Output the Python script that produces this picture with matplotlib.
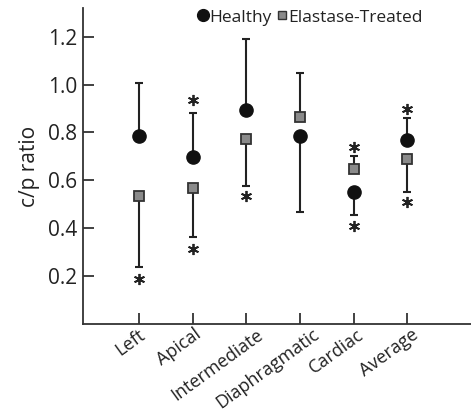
import matplotlib
matplotlib.use("Agg")
import matplotlib.pyplot as plt
from matplotlib.lines import Line2D
from matplotlib.transforms import ScaledTranslation
import numpy as np

plt.rcParams['font.family'] = ['Open Sans', 'DejaVu Sans']

regions = ["Left", "Apical", "Intermediate", "Diaphragmatic", "Cardiac", "Average"]

healthy = [0.785, 0.697, 0.892, 0.785, 0.551, 0.767]
healthy_bar_end = [1.005, 0.880, 1.190, 0.466, 0.457, 0.860]

elastase = [0.535, 0.568, 0.773, 0.864, 0.647, 0.688]
elastase_bar_end = [0.240, 0.362, 0.576, 1.047, 0.700, 0.552]

# significance marks (region index, y)
star_idx = [0, 1, 1, 2, 4, 4, 5, 5]
star_y = [0.19, 0.935, 0.313, 0.536, 0.74, 0.41, 0.90, 0.51]

dark = "#222222"

fig = plt.figure(figsize=(4.71, 4.17), dpi=100)
ax = fig.add_axes([83 / 471, 93 / 417, 388 / 471, 316 / 417])

x = np.arange(len(regions))


def one_sided(vals, ends):
    vals = np.asarray(vals)
    ends = np.asarray(ends)
    lo = np.where(ends < vals, vals - ends, 0)
    hi = np.where(ends > vals, ends - vals, 0)
    return [lo, hi]


ax.errorbar(x, healthy, yerr=one_sided(healthy, healthy_bar_end), fmt='none',
            ecolor=dark, elinewidth=1.5, capsize=3, capthick=1.5, zorder=2)
ax.errorbar(x, elastase, yerr=one_sided(elastase, elastase_bar_end), fmt='none',
            ecolor=dark, elinewidth=1.5, capsize=3, capthick=1.5, zorder=2)

ax.plot(x, healthy, 'o', color='#111111', markersize=9.5, zorder=3)
ax.plot(x, elastase, 's', markerfacecolor='#8a8a8a', markeredgecolor='#333333',
        markeredgewidth=1.3, markersize=7, zorder=3)

ax.plot(np.array(star_idx), star_y, linestyle='none', marker=(6, 2, 0),
        markersize=8, markeredgewidth=1.3, color=dark, zorder=3)

ax.set_xlim(-1.045, 6.19)
ax.set_ylim(0, 1.32)
ax.set_yticks([0.2, 0.4, 0.6, 0.8, 1.0, 1.2])
ax.set_yticklabels(["0.2", "0.4", "0.6", "0.8", "1.0", "1.2"])
ax.set_xticks(x)
ax.set_xticklabels(regions, rotation=36, ha='right', rotation_mode='anchor')

for s in ['top', 'right']:
    ax.spines[s].set_visible(False)
for s in ['left', 'bottom']:
    ax.spines[s].set_color('#333333')
    ax.spines[s].set_linewidth(1.3)

ax.tick_params(axis='y', direction='in', length=8, width=1.3, color='#333333',
               labelsize=15, pad=4, labelcolor=dark)
ax.tick_params(axis='x', direction='in', length=8, width=1.3, color='#333333',
               labelsize=13, pad=1, labelcolor=dark)

ax.set_ylabel("c/p ratio", fontsize=15, color=dark, labelpad=6)

handles = [
    Line2D([], [], linestyle='none', marker='o', color='#111111', markersize=8.5),
    Line2D([], [], linestyle='none', marker='s', markerfacecolor='#8a8a8a',
           markeredgecolor='#333333', markeredgewidth=1.0, markersize=6),
]
ax.legend(handles, ["Healthy", "Elastase-Treated"], ncol=2, frameon=False,
          loc='center', bbox_to_anchor=(0.585, 0.97), fontsize=12.5,
          handlelength=0.6, handletextpad=0.05, columnspacing=0.3,
          borderaxespad=0, labelcolor=dark)

# longer labels sit a bit further right of their tick in the original
fig.canvas.draw()
rend = fig.canvas.get_renderer()
for lab, xi in zip(ax.get_xticklabels(), x):
    bb = lab.get_window_extent(rend)
    tick_px = ax.transData.transform((xi, 0))[0]
    dx = tick_px + 3 + 0.176 * bb.width - bb.x1
    lab.set_transform(lab.get_transform() + ScaledTranslation(dx / fig.dpi, 0, fig.dpi_scale_trans))

fig.savefig("out.png", dpi=100)
